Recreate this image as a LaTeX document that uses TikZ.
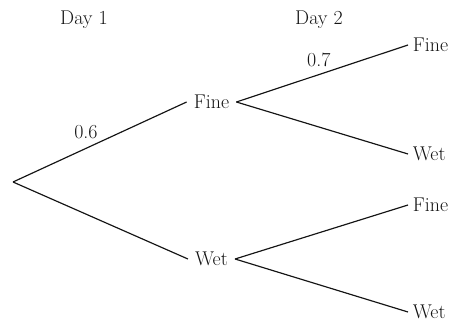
\documentclass[tikz,border=0pt]{standalone}
\usepackage{tikz}
\usetikzlibrary{positioning}
\definecolor{treeink}{RGB}{20,20,20}

\begin{document}
\begin{tikzpicture}[x=0.03cm,y=-0.03cm,
    every node/.style={font=\fontsize{17}{20}\selectfont\color{treeink}},
    branch/.style={draw=treeink,line width=1pt},
    firstday/.style={inner xsep=6pt,inner ysep=0pt},
    secondday/.style={anchor=west,inner xsep=4pt,inner ysep=0pt},
    prob/.style={inner sep=2pt}]
  \useasboundingbox (0,0) rectangle (455,321);
  % headings
  \node (dayone) at (84,20) {Day 1};
  \node (daytwo) at (319,20) {Day 2};
  % outcomes
  \coordinate (start) at (13,182);
  \node[firstday] (fine) at (211.5,102) {Fine};
  \node[firstday] (wet) at (211.5,259) {Wet};
  \node[secondday] (finefine) at (408,45) {Fine};
  \node[secondday] (finewet) at (408,154) {Wet};
  \node[secondday] (wetfine) at (408,205) {Fine};
  \node[secondday] (wetwet) at (408,312) {Wet};
  % branches
  \draw[branch] (start) -- node[prob,pos=0.42,above=6pt] {0.6} (fine.west);
  \draw[branch] (start) -- (wet.west);
  \draw[branch] (fine.east) -- node[prob,pos=0.48,above=4pt] {0.7} (finefine.west);
  \draw[branch] (fine.east) -- (finewet.west);
  \draw[branch] (wet.east) -- (wetfine.west);
  \draw[branch] (wet.east) -- (wetwet.west);
\end{tikzpicture}
\end{document}
